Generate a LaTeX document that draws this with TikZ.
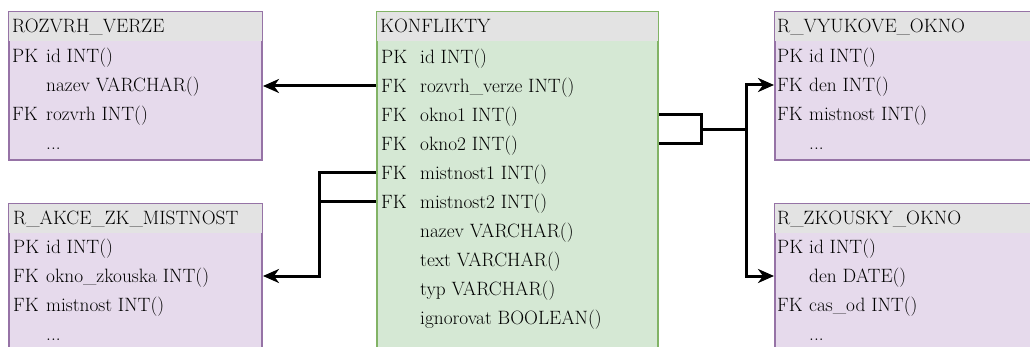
\documentclass[tikz,border=0pt]{standalone}
\usetikzlibrary{arrows.meta}

\definecolor{tabpurple}{HTML}{E6DAEC}
\definecolor{tabpurpleline}{HTML}{9673A6}
\definecolor{tabgreen}{HTML}{D5E8D4}
\definecolor{tabgreenline}{HTML}{82B366}
\definecolor{tabhead}{HTML}{E3E3E3}
\newcommand{\tabdots}{...}

\tikzset{
  tabbox/.style={draw, line width=2pt, anchor=north west, inner sep=0pt},
  purplebox/.style={tabbox, fill=tabpurple, draw=tabpurpleline},
  greenbox/.style={tabbox, fill=tabgreen, draw=tabgreenline},
  rowtext/.style={anchor=west, inner sep=0pt, text height=13pt, text depth=0pt,
    font=\rmfamily\fontsize{19.3}{22}\selectfont},
  conn/.style={line width=3pt},
}

\begin{document}
\begin{tikzpicture}[x=1pt,y=-1pt,>={Stealth[length=16pt,width=14pt,inset=5pt]}]
  \useasboundingbox (0,0) rectangle (1030,347);
  \clip (0,0) rectangle (1030,347);
  % tables
  \node[purplebox, minimum width=253pt, minimum height=148pt] (rv) at (8,11) {};
  \node[purplebox, minimum width=253pt, minimum height=160pt] (ra) at (8,203) {};
  \node[greenbox, minimum width=281pt, minimum height=350pt] (kf) at (376,11) {};
  \node[purplebox, minimum width=270pt, minimum height=148pt] (vo) at (774,11) {};
  \node[purplebox, minimum width=270pt, minimum height=160pt] (zo) at (774,203) {};
  % header bands
  \foreach \t in {rv,ra,kf,vo,zo}
    \fill[tabhead] ([shift={(1pt,-1pt)}]\t.north west) rectangle ([shift={(-1pt,-30pt)}]\t.north east);
  \node[rowtext] (rv-h) at (12,26) {ROZVRH\_VERZE};
  \node[rowtext] (ra-h) at (13,218) {R\_AKCE\_ZK\_MISTNOST};
  \node[rowtext] (kf-h) at (380,26) {KONFLIKTY};
  \node[rowtext] (vo-h) at (777,26) {R\_VYUKOVE\_OKNO};
  \node[rowtext] (zo-h) at (777,218) {R\_ZKOUSKY\_OKNO};
  % rows
  \foreach \k/\t [count=\i] in {PK/id INT(), /nazev VARCHAR(), FK/rozvrh INT(), /\tabdots}
    \node[rowtext] (rv-\i) at (12,56+29*\i-29) {\makebox[34pt][l]{\k}\t};
  \foreach \k/\t [count=\i] in {PK/id INT(), FK/okno\_zkouska INT(), FK/mistnost INT(), /\tabdots}
    \node[rowtext] (ra-\i) at (13,247+29*\i-29) {\makebox[33pt][l]{\k}\t};
  \foreach \k/\t [count=\i] in {PK/id INT(), FK/rozvrh\_verze INT(), FK/okno1 INT(), FK/okno2 INT(),
      FK/mistnost1 INT(), FK/mistnost2 INT(), /nazev VARCHAR(), /text VARCHAR(), /typ VARCHAR(),
      /ignorovat BOOLEAN()}
    \node[rowtext] (kf-\i) at (381,57+29*\i-29) {\makebox[39pt][l]{\k}\t};
  \foreach \k/\t [count=\i] in {PK/id INT(), FK/den INT(), FK/mistnost INT(), /\tabdots}
    \node[rowtext] (vo-\i) at (777,56+29*\i-29) {\makebox[32pt][l]{\k}\t};
  \foreach \k/\t [count=\i] in {PK/id INT(), /den DATE(), FK/cas\_od INT(), /\tabdots}
    \node[rowtext] (zo-\i) at (777,247+29*\i-29) {\makebox[32pt][l]{\k}\t};
  % relations
  \draw[conn,->] (kf.west |- kf-2.west) -- (rv.east |- kf-2.west);
  \coordinate (jl) at (319,0);
  \draw[conn] (kf.west |- kf-6.west) -- (jl |- kf-6.west);
  \draw[conn,->] (kf.west |- kf-5.west) -| (jl |- ra-2.west) -- (ra.east |- ra-2.west);
  \coordinate (jr) at (701,0);
  \coordinate (jv) at (746,0);
  \coordinate (jm) at (701,129.5);
  \draw[conn] (kf.east |- kf-3.west) -| (jr |- kf-4.west) -- (kf.east |- kf-4.west);
  \draw[conn] (jm) -- (jv |- jm);
  \draw[conn,<->] (vo.west |- vo-2.west) -| (jv |- zo-2.west) -- (zo.west |- zo-2.west);
\end{tikzpicture}
\end{document}
